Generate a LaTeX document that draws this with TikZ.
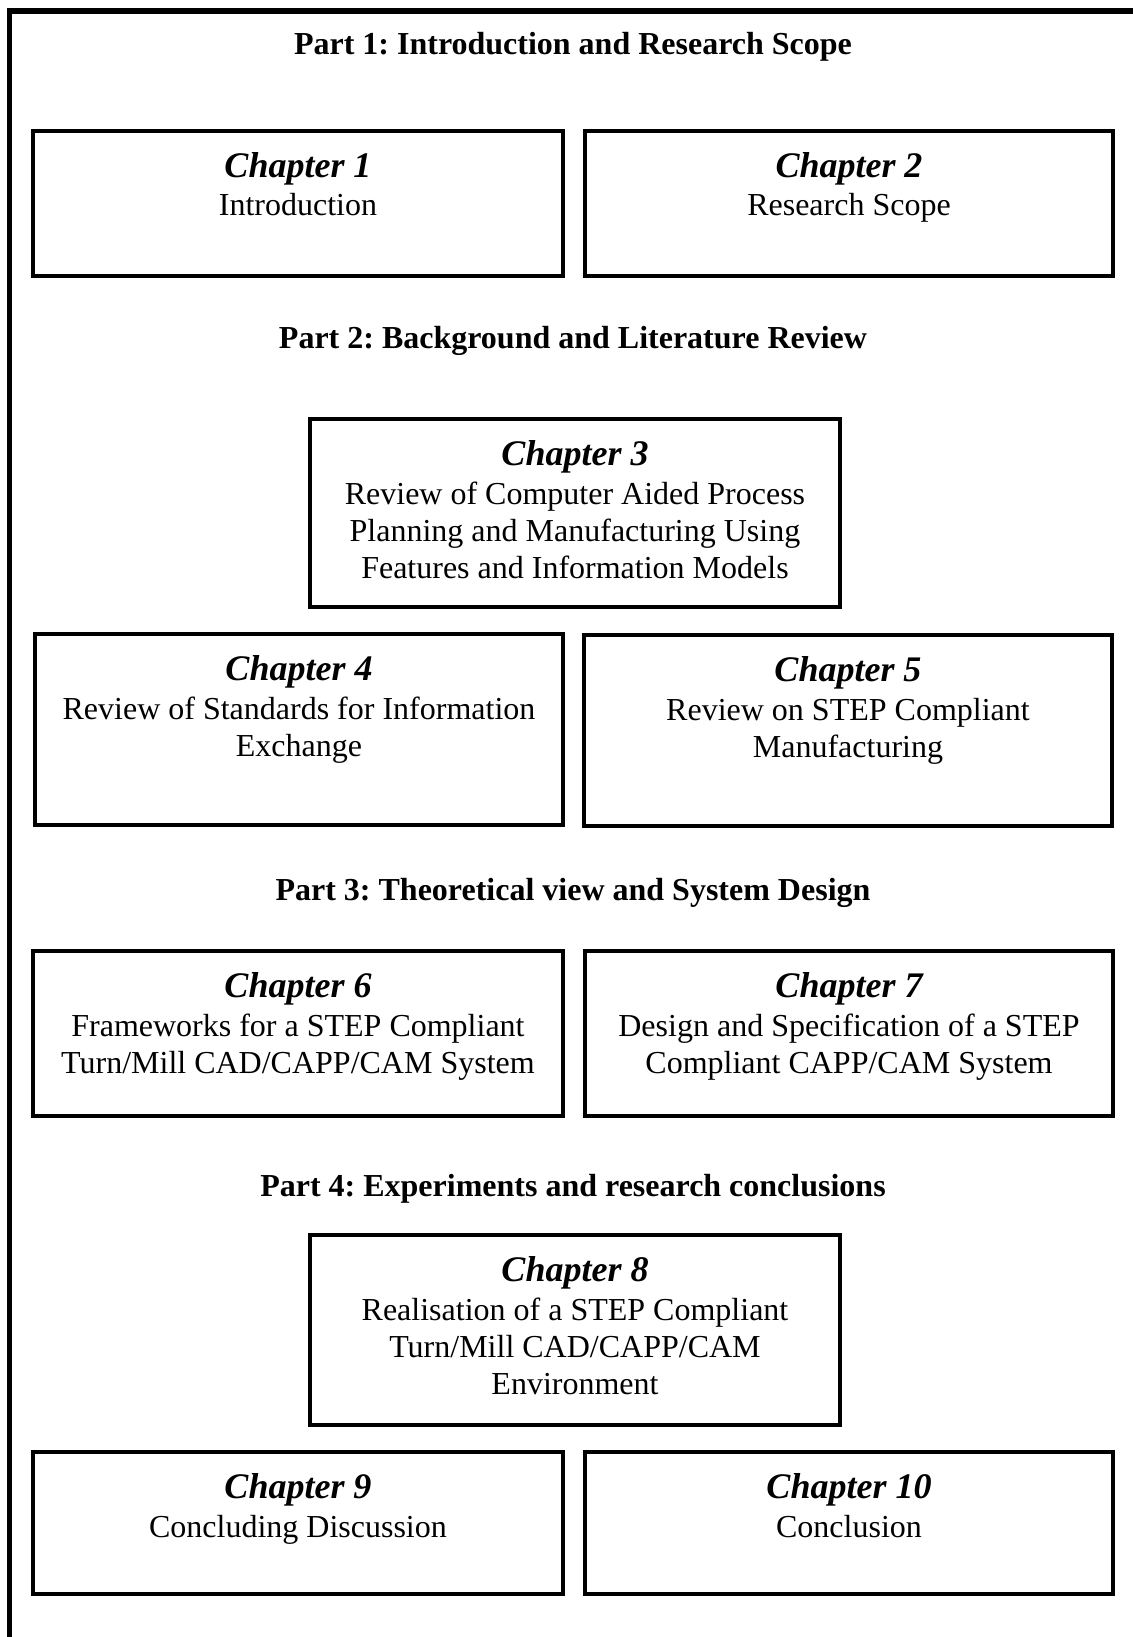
\documentclass[tikz,border=0pt]{standalone}
\usepackage{fontspec}
\setmainfont{Liberation Serif}
\frenchspacing

% chapter heading line inside a box (the strut fixes the height above its baseline)
\newcommand{\chaphead}[1]{{\fontsize{18}{18.5}\selectfont\bfseries\itshape\rule{0pt}{14pt}#1}\\[0.8pt]}

% box with its text: name, x1, y1, x2, y2, text (coordinates in pixels, y downwards)
\newcommand{\chapbox}[6]{%
  \pgfmathsetmacro\cbw{(#4-#2)*0.5}%
  \pgfmathsetmacro\cbh{(#5-#3)*0.5}%
  \node[chbox, minimum width=\cbw pt, minimum height=\cbh pt] (#1) at ({(#2+#4)/2},{(#3+#5)/2}) {};
  \node[chtext] (#1t) at ({(#2+#4)/2},{#3+18}) {#6};
}

\begin{document}
\begin{tikzpicture}[x=0.5pt,y=-0.5pt,
  chbox/.style={draw, line width=2pt, inner sep=0pt},
  chtext/.style={align=center, anchor=north, inner sep=0pt, font=\fontsize{16}{18.5}\selectfont},
  parttitle/.style={anchor=base, inner sep=0pt, font=\fontsize{16}{19}\selectfont\bfseries},
  outerframe/.style={line width=2.75pt}]
\useasboundingbox (0,0) rectangle (1132,1637);

% outer frame (open to the right and bottom)
\coordinate (fb) at (9.5,1640);
\coordinate (fc) at (9.5,11);
\coordinate (fr) at (1135,11);
\draw[outerframe] (fb) -- (fc) -- (fr);

% Part 1
\node[parttitle] (p1) at (573,55) {Part 1: Introduction and Research Scope};
\chapbox{c1}{33}{131}{563}{276}{\chaphead{Chapter 1}Introduction}
\chapbox{c2}{585}{131}{1113}{276}{\chaphead{Chapter 2}Research Scope}

% Part 2
\node[parttitle] (p2) at (573,348) {Part 2: Background and Literature Review};
\chapbox{c3}{310}{419}{840}{607}{\chaphead{Chapter 3}Review of Computer Aided Process\\Planning and Manufacturing Using\\Features and Information Models}
\chapbox{c4}{35}{634}{563}{825}{\chaphead{Chapter 4}Review of Standards for Information\\Exchange}
\chapbox{c5}{584}{635}{1112}{826}{\chaphead{Chapter 5}Review on STEP Compliant\\Manufacturing}

% Part 3
\node[parttitle] (p3) at (573,900) {Part 3: Theoretical view and System Design};
\chapbox{c6}{33}{951}{563}{1116}{\chaphead{Chapter 6}Frameworks for a STEP Compliant\\Turn/Mill CAD/CAPP/CAM System}
\chapbox{c7}{585}{951}{1113}{1116}{\chaphead{Chapter 7}Design and Specification of a STEP\\Compliant CAPP/CAM System}

% Part 4
\node[parttitle] (p4) at (573,1196) {Part 4: Experiments and research conclusions};
\chapbox{c8}{310}{1235}{840}{1425}{\chaphead{Chapter 8}Realisation of a STEP Compliant\\Turn/Mill CAD/CAPP/CAM\\Environment}
\chapbox{c9}{33}{1452}{563}{1594}{\chaphead{Chapter 9}Concluding Discussion}
\chapbox{c10}{585}{1452}{1113}{1594}{\chaphead{Chapter 10}Conclusion}
\end{tikzpicture}
\end{document}
